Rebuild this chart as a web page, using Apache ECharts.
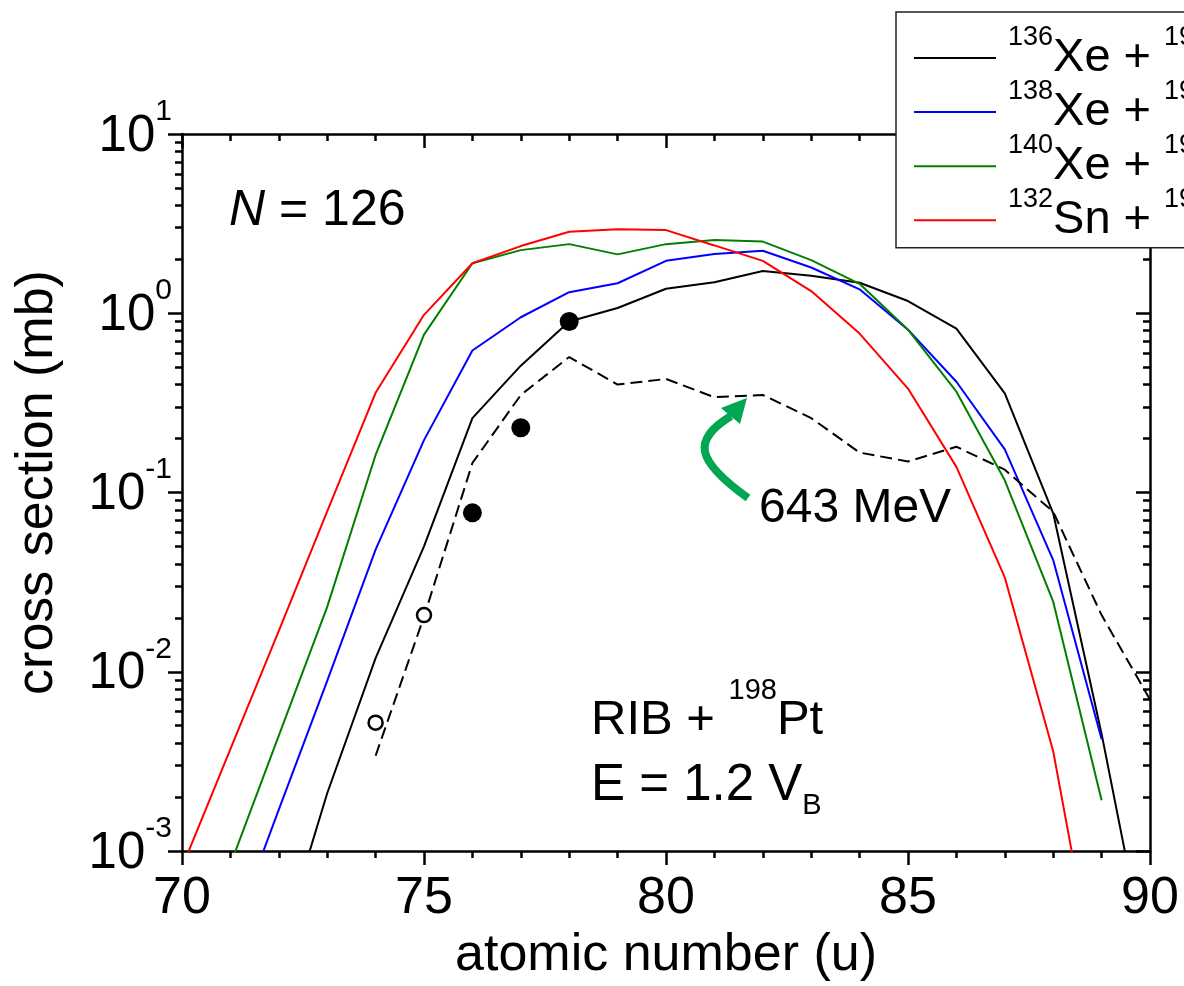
<!DOCTYPE html>
<html><head><meta charset="utf-8">
<script src="https://cdn.jsdelivr.net/npm/echarts@6/dist/echarts.min.js"></script>
<style>html,body{margin:0;padding:0;background:#fff}#c{width:1184px;height:986px}</style>
</head><body><div id="c"></div>
<script>
// ---- data ----
const atomicNumber = [70,71,72,73,74,75,76,77,78,79,80,81,82,83,84,85,86,87,88,89,90];
const xe136 = [null,null,0.00027,0.0021,0.0119,0.050,0.26,0.51,0.90,1.07,1.37,1.49,1.72,1.62,1.48,1.17,0.82,0.357,0.0766,0.0045,0.000195];
const xe138 = [null,0.00032,0.0017,0.0089,0.048,0.196,0.62,0.95,1.31,1.47,1.96,2.14,2.23,1.80,1.36,0.81,0.415,0.174,0.042,0.0042,null];
const xe140 = [null,0.00084,0.0044,0.023,0.162,0.76,1.9,2.25,2.43,2.13,2.43,2.56,2.51,1.98,1.46,0.81,0.365,0.117,0.0246,0.00192,null];
const sn132 = [0.00081,0.0037,0.0169,0.0785,0.36,0.98,1.9,2.37,2.85,2.94,2.91,2.39,1.96,1.33,0.77,0.38,0.139,0.0336,0.0036,0.000125,null];
const mev643 = [null,null,null,null,0.0034,0.0203,0.146,0.35,0.57,0.40,0.43,0.34,0.35,0.26,0.167,0.149,0.18,0.134,0.078,0.0207,0.0070];
const openZ = [74,75];
const openVal = [0.0052,0.0207];
const filledZ = [76,77,78];
const filledVal = [0.077,0.23,0.90];

const seriesNames = ['136Xe + 198Pt','138Xe + 198Pt','140Xe + 198Pt','132Sn + 198Pt'];
const beamMass = ['136','138','140','132'];
const beamEl = ['Xe','Xe','Xe','Sn'];
const targetMass = '198';
const targetEl = 'Pt';
const seriesColors = ['#000000','#0000ff','#008000','#ff0000'];
const xTickValues = [70,75,80,85,90];
const yMajorTicks = [0.001,0.01,0.1,1,10];
const yMinorTicks = [];
for (let d = -3; d < 1; d++) for (let k = 2; k <= 9; k++) yMinorTicks.push(+(k*Math.pow(10,d)).toPrecision(3));

const FONT = "'Liberation Sans', Arial, sans-serif";
function pairs(xs, vals){ return xs.map((z,i)=>[z, vals[i]]).filter(p=>p[1]!=null); }

const chart = echarts.init(document.getElementById('c'), null, {renderer:'canvas'});
const axisLine = {show:true, lineStyle:{color:'#000', width:2.5}};
const tickStyle = {color:'#000', width:2.5};

const yBase = {type:'log', logBase:10, min:0.001, max:10, gridIndex:0, splitLine:{show:false}};

const lineSeries = [xe136, xe138, xe140, sn132].map((vals,i)=>({
  name: seriesNames[i], type:'line', data: pairs(atomicNumber, vals), symbol:'none',
  lineStyle:{color:seriesColors[i], width:2}, itemStyle:{color:seriesColors[i]}, clip:true, z:3
}));

chart.setOption({
  animation:false,
  backgroundColor:'#fff',
  textStyle:{fontFamily:FONT},
  grid:{left:182, right:34, top:134, bottom:135, outerBoundsMode:'none', containLabel:false},
  xAxis:[
    {type:'value', position:'bottom', min:70, max:90, interval:5,
     axisLine:axisLine, axisTick:{show:true, inside:false, length:14, lineStyle:tickStyle},
     minorTick:{show:true, splitNumber:5, length:7, lineStyle:tickStyle},
     splitLine:{show:false},
     axisLabel:{show:true, margin:22, fontSize:52, color:'#000', fontFamily:FONT,
       formatter:(v)=> xTickValues.includes(v) ? String(v) : ''},
     name:'atomic number (u)', nameLocation:'middle', nameGap:76,
     nameTextStyle:{fontSize:52, color:'#000', fontFamily:FONT}},
    {type:'value', position:'top', min:70, max:90, interval:5,
     axisLine:axisLine, axisTick:{show:true, inside:true, length:14, lineStyle:tickStyle},
     minorTick:{show:true, splitNumber:5, length:7, lineStyle:tickStyle},
     splitLine:{show:false}, axisLabel:{show:false}}
  ],
  yAxis:[
    Object.assign({}, yBase, {position:'left',
      axisLine:axisLine,
      axisTick:{show:true, inside:false, length:14, lineStyle:tickStyle, customValues:yMajorTicks},
      axisLabel:{show:true, margin:10, color:'#000', customValues:yMajorTicks,
        formatter:(v)=>{ const e = Math.round(Math.log10(v)); return '{m|10}{s|' + e + '}'; },
        rich:{m:{fontSize:51, padding:[5,0,0,0], fontFamily:FONT, color:'#000'},
              s:{fontSize:30, padding:[0,0,45,0], fontFamily:FONT, color:'#000'}}},
      name:'cross section (mb)', nameLocation:'middle', nameGap:118,
      nameTextStyle:{fontSize:52, color:'#000', fontFamily:FONT, padding:[0,0,0,20]}}),
    Object.assign({}, yBase, {position:'left',
      axisLine:{show:false},
      axisTick:{show:true, inside:false, length:7, lineStyle:tickStyle, customValues:yMinorTicks},
      axisLabel:{show:false}}),
    Object.assign({}, yBase, {position:'right',
      axisLine:axisLine,
      axisTick:{show:true, inside:true, length:14, lineStyle:tickStyle, customValues:yMajorTicks},
      axisLabel:{show:false}}),
    Object.assign({}, yBase, {position:'right',
      axisLine:{show:false},
      axisTick:{show:true, inside:true, length:7, lineStyle:tickStyle, customValues:yMinorTicks},
      axisLabel:{show:false}})
  ],
  legend:{
    data: seriesNames, orient:'vertical', left:896, top:12,
    padding:[12,20,4,17], itemGap:-3.4, itemWidth:82, itemHeight:2,
    backgroundColor:'#fff', borderColor:'#222', borderWidth:1.5, borderRadius:0,
    selectedMode:false, z:10,
    formatter:(name)=>{ const i = seriesNames.indexOf(name);
      return '{s|' + beamMass[i] + '}{m|' + beamEl[i] + ' + }{t|' + targetMass + '}{m|' + targetEl + '}'; },
    textStyle:{color:'#000', fontFamily:FONT, rich:{
      m:{fontSize:47, fontFamily:FONT, color:'#000'},
      s:{fontSize:27, padding:[0,0,41,7], fontFamily:FONT, color:'#000'},
      t:{fontSize:27, padding:[0,0,41,0], fontFamily:FONT, color:'#000'}}}
  },
  series: lineSeries.concat([
    {name:'643 MeV', type:'line', data: pairs(atomicNumber, mev643), symbol:'none',
     lineStyle:{color:'#000', width:2, type:[12,6]}, clip:true, z:3},
    {name:'open', type:'scatter', data: pairs(openZ, openVal), symbol:'circle', symbolSize:14,
     itemStyle:{color:'#fff', borderColor:'#000', borderWidth:2.5, opacity:1}, z:5},
    {name:'filled', type:'scatter', data: pairs(filledZ, filledVal), symbol:'circle', symbolSize:19,
     itemStyle:{color:'#000', opacity:1}, z:5}
  ]),
  graphic:[
    {type:'text', z:20, style:{text:'{i|N}{m| = 126}', x:229, y:211, verticalAlign:'middle', fill:'#000',
      rich:{i:{fontSize:50, fontStyle:'italic', fontFamily:FONT, fill:'#000'}, m:{fontSize:50, fontFamily:FONT, fill:'#000'}}}},
    {type:'text', z:20, style:{text:'{m|RIB + }{s|198}{m|Pt}', x:591, y:720, verticalAlign:'middle', fill:'#000',
      rich:{m:{fontSize:49, fontFamily:FONT, fill:'#000'}, s:{fontSize:29, padding:[0,0,58,0], fontFamily:FONT, fill:'#000'}}}},
    {type:'text', z:20, style:{text:'{m|E = 1.2 V}{b|B}', x:591, y:786, verticalAlign:'middle', fill:'#000',
      rich:{m:{fontSize:51, fontFamily:FONT, fill:'#000'}, b:{fontSize:29, padding:[40,0,0,0], fontFamily:FONT, fill:'#000'}}}},
    {type:'text', z:20, style:{text:'643 MeV', x:759, y:509, verticalAlign:'middle', fontSize:48, fontFamily:FONT, fill:'#000'}},
    {type:'bezierCurve', z:20, shape:{x1:748, y1:498, cpx1:695, cpy1:460, cpx2:692, cpy2:440, x2:731, y2:416},
      style:{stroke:'#00a651', lineWidth:8, fill:null}},
    {type:'polygon', z:20, shape:{points:[[747,398],[721,408],[740,424]]}, style:{fill:'#00a651'}}
  ]
});
</script></body></html>
